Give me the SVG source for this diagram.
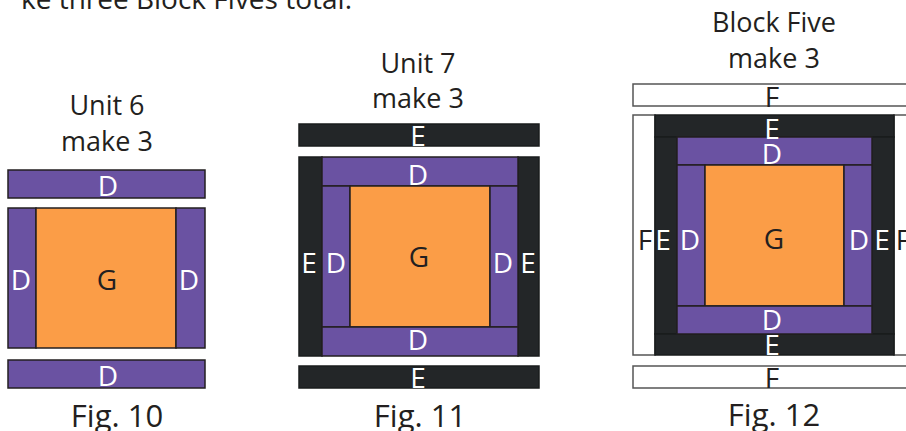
<svg xmlns="http://www.w3.org/2000/svg" width="906" height="431" viewBox="0 0 906 431">
<style>
text{font-family:"Open Sans","Liberation Sans",sans-serif;fill:#231f20;text-anchor:middle}
.t{font-size:27px}
.fig{font-size:31px}
.l{font-size:28px}
.w{fill:#ffffff}
.p{fill:#6a52a2;stroke:#231f20;stroke-width:1.5}
.o{fill:#fb9d47;stroke:#231f20;stroke-width:1.5}
.k{fill:#232628;stroke:#1a1c1d;stroke-width:1.5}
.f{fill:#ffffff;stroke:#555555;stroke-width:1.5}
</style>
<rect width="906" height="431" fill="#ffffff"/>
<text x="352" y="9" style="font-size:28px;text-anchor:end">ke three Block Fives total.</text>

<g id="fig10">
<text class="t" x="107" y="115">Unit 6</text>
<text class="t" x="107" y="151">make 3</text>
<rect class="p" x="8" y="170" width="197" height="28"/>
<rect class="p" x="8" y="208" width="28" height="140"/>
<rect class="o" x="36" y="208" width="140" height="140"/>
<rect class="p" x="176" y="208" width="29" height="140"/>
<rect class="p" x="8" y="360" width="197" height="28"/>
<text class="l w" x="108" y="196">D</text>
<text class="l w" x="21" y="290">D</text>
<text class="l" x="107" y="290">G</text>
<text class="l w" x="189" y="290">D</text>
<text class="l w" x="108" y="386">D</text>
<text class="fig" x="117" y="427">Fig. 10</text>
</g>

<g id="fig11">
<text class="t" x="418" y="73">Unit 7</text>
<text class="t" x="418" y="108">make 3</text>
<rect class="k" x="299" y="124" width="240" height="22"/>
<rect class="k" x="299" y="157" width="23" height="199"/>
<rect class="k" x="518" y="157" width="21" height="199"/>
<rect class="p" x="322" y="157" width="196" height="29"/>
<rect class="p" x="322" y="186" width="28" height="141"/>
<rect class="o" x="350" y="186" width="140" height="141"/>
<rect class="p" x="490" y="186" width="28" height="141"/>
<rect class="p" x="322" y="327" width="196" height="29"/>
<rect class="k" x="299" y="366" width="240" height="22"/>
<text class="l w" x="418" y="146">E</text>
<text class="l w" x="418" y="185">D</text>
<text class="l w" x="309" y="273">E</text>
<text class="l w" x="336" y="273">D</text>
<text class="l" x="419" y="267">G</text>
<text class="l w" x="503" y="273">D</text>
<text class="l w" x="528" y="273">E</text>
<text class="l w" x="418" y="350">D</text>
<text class="l w" x="418" y="388">E</text>
<text class="fig" x="420" y="427">Fig. 11</text>
</g>

<g id="fig12">
<text class="t" x="774" y="32">Block Five</text>
<text class="t" x="774" y="68">make 3</text>
<rect class="f" x="633" y="84" width="282" height="22"/>
<rect class="f" x="633" y="115" width="22" height="240"/>
<rect class="f" x="894" y="115" width="22" height="240"/>
<rect class="k" x="655" y="115" width="239" height="22"/>
<rect class="k" x="655" y="137" width="22" height="197"/>
<rect class="k" x="872" y="137" width="22" height="197"/>
<rect class="k" x="655" y="334" width="239" height="21"/>
<rect class="p" x="677" y="137" width="195" height="28"/>
<rect class="p" x="677" y="165" width="28" height="141"/>
<rect class="o" x="705" y="165" width="139" height="141"/>
<rect class="p" x="844" y="165" width="28" height="141"/>
<rect class="p" x="677" y="306" width="195" height="28"/>
<rect class="f" x="633" y="366" width="282" height="22"/>
<text class="l" x="772" y="107">F</text>
<text class="l w" x="772" y="139">E</text>
<text class="l w" x="772" y="164">D</text>
<text class="l" x="645" y="250">F</text>
<text class="l w" x="663" y="250">E</text>
<text class="l w" x="690" y="250">D</text>
<text class="l" x="774" y="249">G</text>
<text class="l w" x="859" y="250">D</text>
<text class="l w" x="882" y="250">E</text>
<text class="l" x="903" y="250">F</text>
<text class="l w" x="772" y="330">D</text>
<text class="l w" x="772" y="355">E</text>
<text class="l" x="772" y="388">F</text>
<text class="fig" x="774" y="426">Fig. 12</text>
</g>
<g id="connectors"/>
</svg>
